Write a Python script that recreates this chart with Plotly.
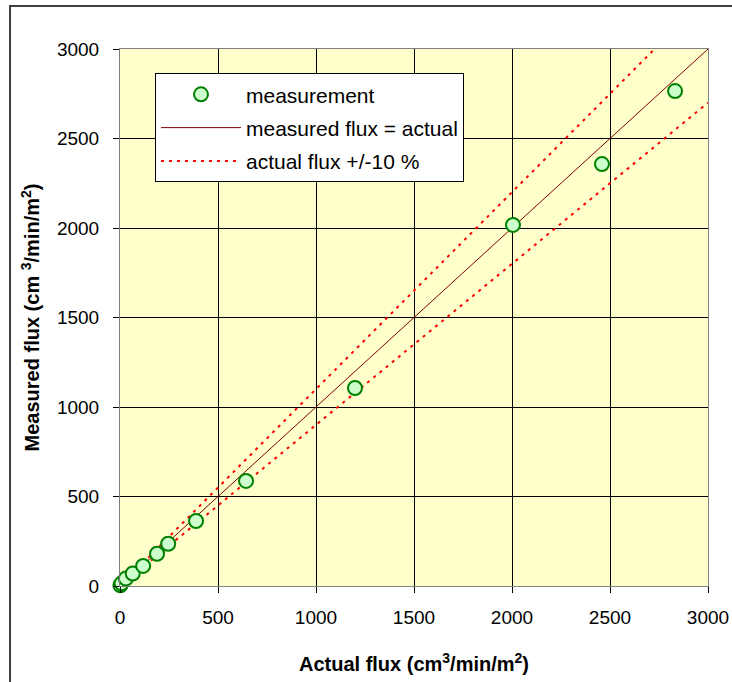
import plotly.graph_objects as go

# Data
actual_flux = [2, 8, 30, 65, 118, 189, 246, 388, 643, 1199, 2005, 2459, 2832]
measured_flux = [4, 15, 42, 70, 112, 180, 236, 363, 587, 1106, 2017, 2357, 2765]

identity_x = [0, 3000]
identity_y = [0, 3000]
upper_x = [0, 2770]
upper_y = [v * 1.1 for v in upper_x]
lower_x = [0, 3000]
lower_y = [v * 0.9 for v in lower_x]

tick_vals = [0, 500, 1000, 1500, 2000, 2500, 3000]

FONT = "Liberation Sans, Arial, sans-serif"

fig = go.Figure()
fig.add_trace(go.Scatter(
    x=identity_x, y=identity_y, mode="lines", name="measured flux = actual",
    legendgroup="b", legendrank=2,
    line=dict(color="#800000", width=1),
))
fig.add_trace(go.Scatter(
    x=upper_x, y=upper_y, mode="lines", name="actual flux +/-10 %",
    legendgroup="c", legendrank=3,
    line=dict(color="#FF0000", width=2, dash="3px,5px"),
))
fig.add_trace(go.Scatter(
    x=lower_x, y=lower_y, mode="lines", name="actual flux -10 %",
    legendgroup="c", showlegend=False,
    line=dict(color="#FF0000", width=2, dash="3px,5px"),
))
fig.add_trace(go.Scatter(
    x=actual_flux, y=measured_flux, mode="markers", name="measurement",
    legendgroup="a", legendrank=1,
    marker=dict(size=14, color="#CCFFCC", line=dict(color="#008000", width=2)),
    cliponaxis=False,
))

fig.update_layout(
    width=732, height=682,
    margin=dict(l=120, r=24, t=49, b=96),
    paper_bgcolor="white",
    plot_bgcolor="#FFFFCC",
    font=dict(family=FONT, size=19, color="black"),
    showlegend=True,
    legend=dict(
        x=0.0595, y=0.955, xanchor="left", yanchor="top",
        bgcolor="white", bordercolor="black", borderwidth=1,
        font=dict(family=FONT, size=21, color="black"),
        itemwidth=80, tracegroupgap=3, traceorder="grouped",
    ),
    xaxis=dict(
        range=[0, 3000], tickvals=tick_vals, showgrid=True,
        gridcolor="black", gridwidth=1, zeroline=False,
        showline=True, linecolor="#808080", linewidth=1, mirror=True,
        ticks="outside", ticklen=6, tickcolor="black", ticklabelstandoff=8,
        ticklabeloverflow="allow", automargin=False,
        tickfont=dict(size=19),
        title=dict(text="<b>Actual flux (cm<sup>3</sup>/min/m<sup>2</sup>)</b>",
                   font=dict(size=20), standoff=30),
    ),
    yaxis=dict(
        range=[0, 3000], tickvals=tick_vals, showgrid=True,
        gridcolor="black", gridwidth=1, zeroline=False,
        showline=True, linecolor="#808080", linewidth=1, mirror=True,
        ticks="outside", ticklen=6, tickcolor="black", ticklabelstandoff=10,
        ticklabeloverflow="allow", automargin=False,
        tickfont=dict(size=19),
        title=dict(text="<b>Measured flux (cm <sup>3</sup>/min/m<sup>2</sup>)</b>",
                   font=dict(size=20), standoff=11),
    ),
    shapes=[dict(
        type="rect", xref="paper", yref="paper",
        x0=-0.187, x1=1.2, y0=-0.4, y1=1.080,
        line=dict(color="#404040", width=2), layer="below",
    )],
)

fig.write_html(
    "out.html",
    config={"displayModeBar": False},
    post_script="document.body.style.margin='0';document.body.style.overflow='hidden';",
)
